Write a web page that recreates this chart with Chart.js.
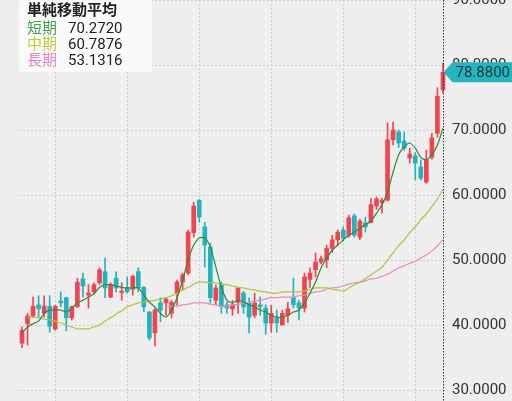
<!DOCTYPE html>
<html>
<head>
<meta charset="utf-8">
<script src="https://cdn.jsdelivr.net/npm/chart.js@4/dist/chart.umd.min.js"></script>
<style>
  html, body { margin: 0; padding: 0; background: #eeeeee; overflow: hidden; }
  #wrap { position: relative; width: 512px; height: 401px; }
  #maLegend {
    position: absolute; left: 19px; top: 0; width: 133px; height: 72px;
    background: rgba(252,252,252,0.88);
    font-family: Roboto, "Noto Sans CJK JP", sans-serif; font-size: 15px; color: #222;
  }
  #maLegend .ttl { position: absolute; left: 8px; top: 1px; line-height: 19px; font-weight: bold; }
  #maLegend .row { position: absolute; left: 8px; line-height: 16px; white-space: nowrap; }
  #maLegend .row span { display: inline-block; width: 41px; }
</style>
</head>
<body>
<div id="wrap">
  <canvas id="candleChart"></canvas>
  <div id="maLegend"></div>
</div>
<script>
/* ---- data (one entry per candle) ---- */
const opens  = [37.2,40.2,41.4,43.1,41.8,42.9,39.4,43.7,44.2,41.1,42.8,47.1,44.6,45.1,46.5,48.2,44.3,47.2,45.0,45.8,
                45.5,48.2,45.8,42.0,38.8,43.4,43.4,41.8,44.9,46.6,48.0,54.2,59.2,55.1,52.0,43.8,46.2,43.1,42.5,43.5,
                44.9,43.4,41.5,43.1,42.6,40.3,41.1,40.0,41.5,44.2,43.4,42.6,47.0,48.5,49.7,50.0,51.8,53.1,54.6,53.8,
                56.8,53.5,55.7,55.8,58.3,58.8,59.2,68.5,69.7,68.3,65.7,66.0,64.3,62.0,65.8,69.5,76.2];
const highs  = [39.7,41.8,44.3,44.5,44.5,44.5,43.0,45.1,44.3,42.9,47.2,48.0,46.2,46.5,48.8,50.3,46.5,48.2,46.5,47.4,
                47.7,48.8,45.9,42.1,42.6,44.2,44.2,43.8,46.9,48.0,54.6,58.9,59.3,55.8,52.6,46.2,46.6,43.5,43.8,45.8,
                45.2,44.2,44.9,44.3,43.1,43.0,42.3,42.3,43.5,47.2,43.8,48.0,48.8,51.1,50.6,52.3,53.8,54.6,55.1,56.9,
                57.1,56.3,56.6,59.5,59.7,59.5,71.1,71.2,70.0,69.7,67.2,66.5,65.4,66.9,69.5,76.5,80.3];
const lows   = [36.5,36.9,41.2,41.2,41.2,38.9,39.2,42.8,39.1,40.8,42.7,44.3,42.6,44.8,46.2,44.2,44.2,45.1,43.8,44.9,
                44.6,45.1,42.0,37.7,36.8,40.5,41.5,41.1,43.1,45.4,47.7,53.5,55.8,48.9,43.4,43.1,41.8,41.8,41.5,41.8,
                41.8,38.8,41.1,41.5,38.6,38.9,38.9,40.0,40.4,42.6,40.8,42.0,45.8,47.4,49.4,48.8,51.2,52.3,52.9,53.5,
                53.5,53.1,54.3,55.7,57.8,57.2,59.1,67.7,67.3,66.9,64.9,62.3,62.3,61.8,65.5,68.9,75.7];
const closes = [39.2,41.4,42.9,42.5,42.9,39.8,42.9,43.4,41.1,42.8,46.6,46.0,44.9,46.2,48.5,45.7,46.2,45.7,45.2,45.1,
                47.5,45.7,42.8,38.0,42.3,42.3,44.0,43.5,46.6,47.7,54.3,58.3,56.6,52.3,44.2,45.7,42.8,42.6,43.1,45.7,
                42.8,41.2,43.4,42.8,40.3,41.8,40.3,41.8,42.5,43.1,42.6,47.4,48.0,49.7,50.2,51.8,53.1,54.3,53.4,56.5,
                53.8,56.0,55.1,58.5,59.4,59.2,68.5,70.0,68.0,67.2,66.3,64.9,62.6,65.4,68.8,75.2,78.88];

// moving average lines as drawn (null = not drawn yet)
const maShort = [38.8,39.7,40.2,40.6,41.8,42.3,42.3,42.3,42.0,42.6,43.4,43.8,44.3,44.8,45.8,46.2,46.2,46.0,45.8,45.7,
                 45.7,45.7,44.6,43.5,42.8,41.8,41.2,42.3,44.2,46.9,50.0,52.3,53.4,53.4,52.0,48.9,45.8,43.8,43.4,43.8,
                 43.5,43.1,42.8,42.3,42.0,41.5,41.2,41.2,41.5,42.0,42.3,43.4,44.9,46.6,48.8,50.3,51.5,52.3,53.1,53.8,
                 54.3,54.9,55.4,56.0,57.2,58.5,60.5,63.5,66.2,67.4,68.0,67.2,65.8,65.4,66.2,67.7,70.272];
const maMid   = [null,41.2,41.2,41.1,40.9,40.8,40.6,40.3,40.0,39.7,39.4,39.4,39.4,39.7,40.0,40.6,41.1,41.7,42.2,42.8,
                 43.1,43.4,43.5,43.7,43.8,44.0,44.2,44.5,44.9,45.4,45.8,46.3,46.6,46.6,46.5,46.5,46.3,46.2,46.0,45.8,
                 45.7,45.5,45.4,45.2,45.1,44.9,44.9,45.1,45.1,45.1,45.1,45.2,45.5,45.7,45.7,45.7,45.5,45.4,45.2,45.7,
                 46.2,46.6,47.1,47.7,48.3,48.9,50.0,51.1,52.2,53.1,54.2,55.1,56.2,57.1,58.2,59.4,60.7876];
const maLong  = [null,null,null,null,null,null,null,null,null,null,null,null,null,null,null,null,null,null,null,null,
                 null,null,null,null,null,null,42.8,42.9,42.9,43.1,43.2,43.4,43.4,43.4,43.2,43.1,42.9,42.9,43.1,43.2,
                 43.4,43.5,43.7,43.8,44.0,44.2,44.2,44.3,44.3,44.3,44.5,44.6,44.9,45.1,45.2,45.5,45.7,45.8,46.0,46.3,
                 46.5,46.6,46.8,47.1,47.2,47.5,47.8,48.3,48.8,49.1,49.5,49.8,50.3,50.8,51.4,52.2,53.1316];

const maNames  = ['短期', '中期', '長期'];
const maLast   = ['70.2720', '60.7876', '53.1316'];
const maTitle  = '単純移動平均';
const xGridAt  = [6, 19, 32, 45, 58, 71];   // dotted vertical guides (candle index)

/* ---- colours ---- */
const UP = '#f2444f', DOWN = '#22b3bc';
const maLineColors  = ['#2e8a3c', '#b4c435', '#e68bc2'];
const maLabelColors = ['#47a24f', '#bccd3c', '#e584c6'];

const idx = closes.map((_, i) => i);
const candleColor = idx.map(i => closes[i] >= opens[i] ? UP : DOWN);

// legend box (top-left)
document.getElementById('maLegend').innerHTML =
  `<div class="ttl">${maTitle}</div>` +
  maNames.map((n, k) => `<div class="row" style="top:${20 + k * 16}px"><span style="color:${maLabelColors[k]}">${n}</span>${maLast[k]}</div>`).join('');

const maLine = (vals, k) => ({
  type: 'line',
  data: idx.map(i => ({ x: i, y: vals[i] })),
  borderColor: maLineColors[k], borderWidth: 1.2,
  pointRadius: 0, tension: 0.25, spanGaps: false, order: 0
});

// dotted line through the last candle + the price tag on the axis
const lastPricePlugin = {
  id: 'lastPrice',
  afterDraw(chart) {
    const { ctx, scales: { x, y } } = chart;
    const last = closes.length - 1;
    const px = Math.round(x.getPixelForValue(last)) + 0.5;
    const py = y.getPixelForValue(closes[last]);
    ctx.save();
    ctx.strokeStyle = '#333';
    ctx.lineWidth = 1;
    ctx.setLineDash([1.5, 1.5]);
    ctx.beginPath(); ctx.moveTo(px, 0); ctx.lineTo(px, chart.height); ctx.stroke();
    ctx.setLineDash([]);

    ctx.fillStyle = '#26b5be';
    ctx.beginPath();
    ctx.moveTo(px, py);
    ctx.lineTo(px + 9, py - 10);
    ctx.lineTo(chart.width, py - 10);
    ctx.lineTo(chart.width, py + 10);
    ctx.lineTo(px + 9, py + 10);
    ctx.closePath(); ctx.fill();

    ctx.fillStyle = '#143a3d';
    ctx.font = '15px Roboto';
    ctx.textBaseline = 'middle';
    ctx.fillText(closes[last].toFixed(4), px + 12, py + 1);
    ctx.restore();
  }
};

new Chart(document.getElementById('candleChart'), {
  type: 'bar',
  data: {
    datasets: [
      maLine(maShort, 0), maLine(maMid, 1), maLine(maLong, 2),
      { // wicks
        data: idx.map(i => ({ x: i, y: [lows[i], highs[i]] })),
        backgroundColor: candleColor, barThickness: 1, grouped: false, order: 2
      },
      { // bodies
        data: idx.map(i => ({ x: i, y: [Math.min(opens[i], closes[i]), Math.max(opens[i], closes[i])] })),
        backgroundColor: candleColor, barThickness: 4, minBarLength: 1, grouped: false, order: 1
      }
    ]
  },
  options: {
    responsive: true, maintainAspectRatio: false, animation: false,
    layout: { padding: { left: 19, top: 0, right: 0, bottom: 0 } },
    plugins: { legend: { display: false }, tooltip: { enabled: false } },
    scales: {
      x: {
        type: 'linear', min: -0.54, max: 76.91, offset: false,
        grid: { offset: false, color: '#cfcfcf', drawTicks: false },
        border: { display: false, dash: [2, 2] },
        ticks: { display: false },
        afterBuildTicks: s => { s.ticks = xGridAt.map(v => ({ value: v })); },
        afterFit: s => { s.height = 0; }
      },
      y: {
        position: 'right', min: 28.31, max: 90,
        grid: { color: '#cfcfcf', drawTicks: false },
        border: { display: false, dash: [2, 2] },
        ticks: {
          stepSize: 10, includeBounds: false, padding: 4, color: '#333',
          font: { family: 'Roboto', size: 15 },
          callback: v => Number(v).toFixed(4)
        },
        afterFit: s => { s.width = 64; s.paddingTop = 0; s.paddingBottom = 0; }
      }
    }
  },
  plugins: [lastPricePlugin]
});
</script>
</body>
</html>
